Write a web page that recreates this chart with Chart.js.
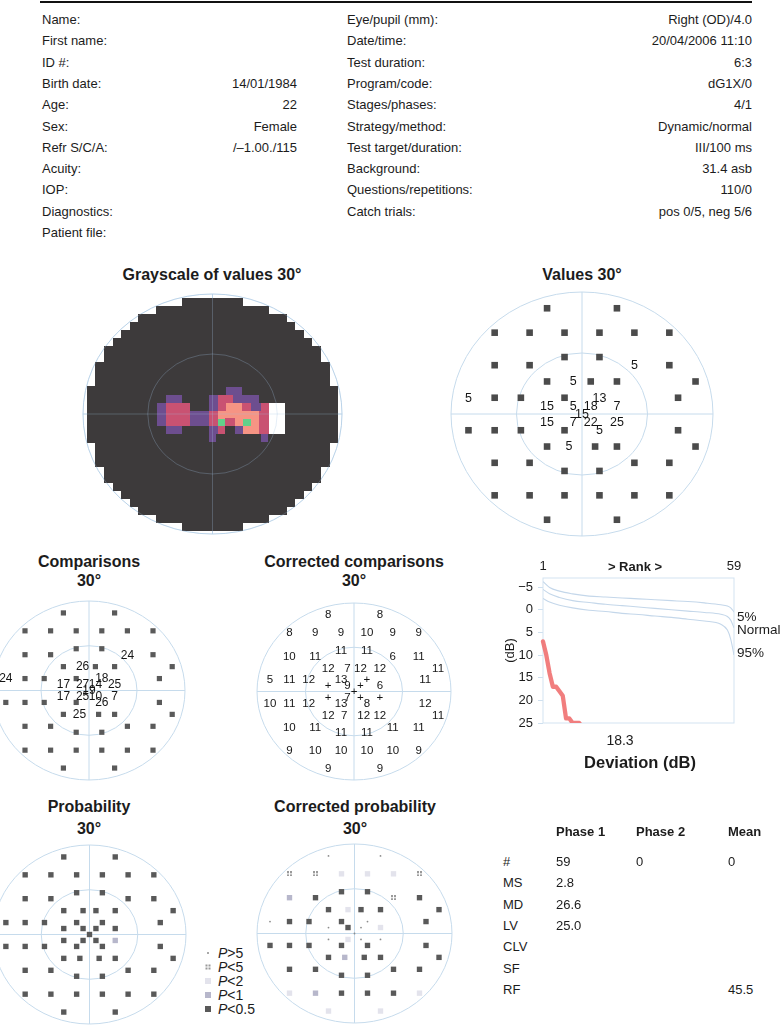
<!DOCTYPE html>
<html>
<head>
<meta charset="utf-8">
<script src="https://cdn.jsdelivr.net/npm/chart.js@4.4.1/dist/chart.umd.min.js"></script>
<style>
  body { margin: 0; background: #fff; }
  #page { position: relative; width: 781px; height: 1025px; overflow: hidden;
          font-family: "Liberation Sans", Arial, sans-serif; color: #1c1c1c; }
  .t { position: absolute; white-space: nowrap; font-size: 13px; line-height: 16px; transform: translateY(-50%); }
  .r { transform: translate(-100%, -50%); }
  .c { transform: translate(-50%, -50%); }
  .b { font-weight: bold; }
  canvas { position: absolute; }
  .sym { position: absolute; transform: translate(-50%, -50%); }
</style>
</head>
<body>
<div id="page"></div>
<script>
'use strict';

// ─── Header data ─────────────────────────────────────────────────────────────
const leftLabels  = ['Name:', 'First name:', 'ID #:', 'Birth date:', 'Age:', 'Sex:', 'Refr S/C/A:',
                     'Acuity:', 'IOP:', 'Diagnostics:', 'Patient file:'];
const leftValues  = ['', '', '', '14/01/1984', '22', 'Female', '/\u20131.00./115', '', '', '', ''];
const rightLabels = ['Eye/pupil (mm):', 'Date/time:', 'Test duration:', 'Program/code:', 'Stages/phases:',
                     'Strategy/method:', 'Test target/duration:', 'Background:', 'Questions/repetitions:', 'Catch trials:'];
const rightValues = ['Right (OD)/4.0', '20/04/2006 11:10', '6:3', 'dG1X/0', '4/1', 'Dynamic/normal',
                     'III/100 ms', '31.4 asb', '110/0', 'pos 0/5, neg 5/6'];

// ─── Test locations (degrees), G1 pattern, row by row top to bottom ─────────
const fieldX = [-8, 8,
  -20, -12, -4, 4, 12, 20,
  -4, 4,
  -20, -12, 12, 20,
  -8, -2, 2, 8, 26,
  -26, -20, -14, -4, 4, 22,
  -8, -2, 2, 8,
  0,
  -8, -2, 2, 8,
  -26, -20, -14, -4, 4, 22,
  -8, -3, 3, 8, 26,
  -20, -12, 12, 20,
  -4, 4,
  -20, -12, -4, 4, 12, 20,
  -8, 8];
const fieldY = [26, 26,
  20, 20, 20, 20, 20, 20,
  14, 14,
  12, 12, 12, 12,
  8, 8, 8, 8, 8,
  4, 4, 4, 4, 4, 4,
  2, 2, 2, 2,
  0,
  -2, -2, -2, -2,
  -4, -4, -4, -4, -4, -4,
  -8, -8, -8, -8, -8,
  -12, -12, -12, -12,
  -14, -14,
  -20, -20, -20, -20, -20, -20,
  -26, -26];

// Measured thresholds (dB); 0 is drawn as a black square
const valuesDb = [0, 0,
  0, 0, 0, 0, 0, 0,
  0, 0,
  0, 0, 5, 0,
  0, 5, 0, 0, 0,
  5, 0, 0, 0, 13, 0,
  15, 5, 18, 7,
  15,
  15, 7, 22, 25,
  0, 0, 0, 0, 5, 0,
  0, 5, 0, 0, 0,
  0, 0, 0, 0,
  0, 0,
  0, 0, 0, 0, 0, 0,
  0, 0];

// Comparisons (dB); null = absolute defect (square)
const comparisons = [null, null,
  null, null, null, null, null, null,
  null, null,
  null, null, 24, null,
  null, 26, null, null, null,
  24, null, null, null, 18, null,
  17, 27, 14, 25,
  19,
  17, 25, 10, 7,
  null, null, null, null, 26, null,
  null, 25, null, null, null,
  null, null, null, null,
  null, null,
  null, null, null, null, null, null,
  null, null];

// Corrected comparisons ('+' = within normal)
const correctedComparisons = ['8', '8',
  '8', '9', '9', '10', '9', '9',
  '11', '11',
  '10', '11', '6', '11',
  '12', '7', '12', '12', '11',
  '5', '11', '12', '13', '+', '11',
  '+', '9', '+', '6',
  '+',
  '+', '7', '+', '+',
  '10', '11', '12', '13', '8', '12',
  '12', '7', '12', '12', '11',
  '10', '11', '11', '11',
  '11', '11',
  '9', '10', '10', '10', '10', '9',
  '9', '9'];

// Probability classes: 0 P>5, 1 P<5, 2 P<2, 3 P<1, 4 P<0.5
const probability = [4, 4,
  4, 4, 4, 4, 4, 4,
  4, 4,
  4, 4, 4, 4,
  4, 4, 4, 4, 4,
  4, 4, 4, 4, 4, 4,
  4, 4, 4, 4,
  4,
  4, 4, 4, 3,
  4, 4, 4, 4, 4, 4,
  4, 4, 4, 4, 4,
  4, 4, 4, 4,
  4, 4,
  4, 4, 4, 4, 4, 4,
  4, 4];
const correctedProbability = [0, 0,
  1, 1, 2, 2, 2, 1,
  4, 4,
  3, 4, 1, 4,
  4, 2, 4, 4, 4,
  0, 4, 4, 4, 0, 4,
  0, 4, 0, 2,
  0,
  0, 2, 0, 0,
  4, 4, 4, 4, 4, 4,
  4, 3, 4, 4, 4,
  4, 4, 4, 4,
  4, 4,
  2, 3, 4, 4, 4, 2,
  2, 2];
const probLegend = ['>5', '<5', '<2', '<1', '<0.5'];

// Grayscale map, 2° cells, rows y = 28 … -28, columns x = -28 … 28
// k dark, p purple, r red, s salmon, g green, w white, . outside
const grayRows = [
  '...........kkkkkkk...........',
  '........kkkkkkkkkkkkk........',
  '......kkkkkkkkkkkkkkkkk......',
  '.....kkkkkkkkkkkkkkkkkkk.....',
  '....kkkkkkkkkkkkkkkkkkkkk....',
  '...kkkkkkkkkkkkkkkkkkkkkkk...',
  '..kkkkkkkkkkkkkkkkkkkkkkkkk..',
  '..kkkkkkkkkkkkkkkkkkkkkkkkk..',
  '.kkkkkkkkkkkkkkkkkkkkkkkkkkk.',
  '.kkkkkkkkkkkkkkkkkkkkkkkkkkk.',
  '.kkkkkkkkkkkkkkkkkkkkkkkkkkk.',
  'kkkkkkkkkkkkkkkkppkkkkkkkkkkk',
  'kkkkkkkkkppkkkprrpppkkkkkkkkk',
  'kkkkkkkkprrrkkprssrprwwkkkkkk',
  'kkkkkkkkprrrpprsssssrwwkkkkkk',
  'kkkkkkkkprrrpprgrsgsrwwkkkkkk',
  'kkkkkkkkkppkkkprkpssrwwkkkkkk',
  'kkkkkkkkkkkkkkpkkkkkpkkkkkkkk',
  '.kkkkkkkkkkkkkkkkkkkkkkkkkkk.',
  '.kkkkkkkkkkkkkkkkkkkkkkkkkkk.',
  '.kkkkkkkkkkkkkkkkkkkkkkkkkkk.',
  '..kkkkkkkkkkkkkkkkkkkkkkkkk..',
  '..kkkkkkkkkkkkkkkkkkkkkkkkk..',
  '...kkkkkkkkkkkkkkkkkkkkkkk...',
  '....kkkkkkkkkkkkkkkkkkkkk....',
  '.....kkkkkkkkkkkkkkkkkkk.....',
  '......kkkkkkkkkkkkkkkkk......',
  '........kkkkkkkkkkkkk........',
  '...........kkkkkkk...........'
];
const grayColors = { k: '#3d3a3b', p: '#6d4e8f', r: '#c95272', s: '#f69484', g: '#62d08a', w: '#ffffff' };

// ─── Bebie curve data ────────────────────────────────────────────────────────
const rankGrid      = [1, 3, 6, 10, 15, 20, 25, 30, 35, 40, 45, 50, 55, 57, 58, 59];
const curveUpper    = [-6.2, -4.9, -4.1, -3.5, -3.0, -2.8, -2.6, -2.4, -2.2, -2.0, -1.8, -1.5, -1.1, -0.8, -0.4, 0.5];
const curveNormal   = [-4.5, -3.5, -2.7, -2.0, -1.6, -1.2, -0.9, -0.6, -0.3, 0.0, 0.3, 0.6, 1.0, 1.5, 2.3, 4.0];
const curveLower    = [-2.5, -1.7, -1.0, -0.4, 0.1, 0.4, 0.8, 1.05, 1.4, 1.7, 2.1, 2.5, 3.2, 4.5, 6.5, 10.0];
const patientDefects = [7, 10, 14, 17, 17, 18, 19, 24, 24, 25, 25, 25, 26, 26, 27];
const yTicks = [-5, 0, 5, 10, 15, 20, 25];

// ─── Summary table ───────────────────────────────────────────────────────────
const tableHeads  = ['Phase 1', 'Phase 2', 'Mean'];
const tableRows   = ['#', 'MS', 'MD', 'LV', 'CLV', 'SF', 'RF'];
const phase1Vals  = ['59', '2.8', '26.6', '25.0', '', '', ''];
const phase2Vals  = ['0', '', '', '', '', '', ''];
const meanVals    = ['0', '', '', '', '', '', '45.5'];

// ─── Helpers ─────────────────────────────────────────────────────────────────
const FONT = '"Liberation Sans", Arial, sans-serif';
Chart.defaults.font.family = FONT;
Chart.defaults.color = '#1c1c1c';
const page = document.getElementById('page');

function txt(s, x, y, cls = '', size = 13, html = false) {
  const d = document.createElement('div');
  d.className = 't ' + cls;
  d.style.left = x + 'px';
  d.style.top = y + 'px';
  d.style.fontSize = size + 'px';
  if (html) d.innerHTML = s; else d.textContent = s;
  page.appendChild(d);
  return d;
}

function addCanvas(left, top, w, h) {
  const cv = document.createElement('canvas');
  cv.width = w; cv.height = h;
  cv.style.left = left + 'px';
  cv.style.top = top + 'px';
  page.appendChild(cv);
  return cv;
}

function pts(indexes) {
  return indexes.map(i => ({ x: fieldX[i], y: fieldY[i] }));
}
const allIdx = fieldX.map((_, i) => i);

// Draws the 15° / 30° rings and the crosshair
function drawFieldGrid(chart, color) {
  const { ctx, scales: { x, y } } = chart;
  const cx = x.getPixelForValue(0), cy = y.getPixelForValue(0);
  ctx.save();
  ctx.strokeStyle = color;
  ctx.lineWidth = 1;
  for (const r of [15, 30]) {
    ctx.beginPath();
    ctx.ellipse(cx, cy, x.getPixelForValue(r) - cx, cy - y.getPixelForValue(r), 0, 0, Math.PI * 2);
    ctx.stroke();
  }
  ctx.beginPath();
  ctx.moveTo(x.getPixelForValue(-30), cy); ctx.lineTo(x.getPixelForValue(30), cy);
  ctx.moveTo(cx, y.getPixelForValue(30)); ctx.lineTo(cx, y.getPixelForValue(-30));
  ctx.stroke();
  ctx.restore();
}

const fieldGrid = {
  id: 'fieldGrid',
  beforeDatasetsDraw(chart) { drawFieldGrid(chart, '#c6dbec'); },
  afterDatasetsDraw(chart, args, o) { if (o.front) drawFieldGrid(chart, o.front); },
};

// Writes dataset.texts at each point position
const fieldText = {
  id: 'fieldText',
  afterDatasetsDraw(chart) {
    const ctx = chart.ctx;
    chart.data.datasets.forEach((ds, i) => {
      if (!ds.texts) return;
      const meta = chart.getDatasetMeta(i);
      ctx.save();
      ctx.font = ds.textFont;
      ctx.fillStyle = '#151515';
      ctx.textAlign = 'center';
      ctx.textBaseline = 'middle';
      meta.data.forEach((el, j) => ctx.fillText(ds.texts[j], el.x, el.y + 0.5));
      ctx.restore();
    });
  },
};

function fieldChart(cx, cy, rx, ry, datasets, gridOpts = {}) {
  const pad = 12;
  const cv = addCanvas(Math.round(cx - rx - pad), Math.round(cy - ry - pad),
                       Math.round(2 * rx + 2 * pad), Math.round(2 * ry + 2 * pad));
  return new Chart(cv.getContext('2d'), {
    type: 'scatter',
    data: { datasets },
    options: {
      responsive: false,
      animation: false,
      events: [],
      layout: { padding: pad },
      scales: {
        x: { display: false, min: -30, max: 30 },
        y: { display: false, min: -30, max: 30 },
      },
      plugins: { legend: { display: false }, tooltip: { enabled: false }, fieldGrid: gridOpts },
    },
    plugins: [fieldGrid, fieldText],
  });
}

function squares(indexes, color, side) {
  return {
    data: pts(indexes),
    pointStyle: 'rect',
    pointRadius: side / Math.SQRT2,
    pointBackgroundColor: color,
    pointBorderWidth: 0,
  };
}

function labels(indexes, texts, size) {
  return {
    data: pts(indexes),
    pointRadius: 0,
    texts,
    textFont: size + 'px ' + FONT,
  };
}

function fourDots(color) {
  const c = document.createElement('canvas');
  c.width = 5; c.height = 5;
  const g = c.getContext('2d');
  g.fillStyle = color;
  [[0, 0], [3, 0], [0, 3], [3, 3]].forEach(([a, b]) => g.fillRect(a, b, 2, 2));
  return c;
}

// Solid cell image used as point style for the grayscale map
function cell(color, w, h) {
  const c = document.createElement('canvas');
  c.width = w; c.height = h;
  const g = c.getContext('2d');
  g.fillStyle = color;
  g.fillRect(0, 0, w, h);
  return c;
}

const probStyles = [
  { style: 'circle', r: 0.9, color: '#8c8c8c' },
  { style: fourDots('#9a9a9a'), r: 3, color: '#9a9a9a' },
  { style: 'rect', r: 3.8, color: '#e3e3ec' },
  { style: 'rect', r: 3.8, color: '#b7b7cb' },
  { style: 'rect', r: 3.8, color: '#595959' },
];

function probDatasets(classes) {
  return probStyles.map((s, k) => ({
    data: pts(allIdx.filter(i => classes[i] === k)),
    pointStyle: s.style,
    pointRadius: s.r,
    pointBackgroundColor: s.color,
    pointBorderWidth: 0,
  }));
}

// ─── Header ──────────────────────────────────────────────────────────────────
const line = document.createElement('div');
line.style.cssText = 'position:absolute;left:40px;top:1px;width:712px;height:2px;background:#111;';
page.appendChild(line);
leftLabels.forEach((s, i) => {
  const y = 20 + i * 21.3;
  txt(s, 42, y);
  if (leftValues[i]) txt(leftValues[i], 297, y, 'r');
});
rightLabels.forEach((s, i) => {
  const y = 20 + i * 21.3;
  txt(s, 347, y);
  txt(rightValues[i], 752, y, 'r');
});

// ─── Grayscale ───────────────────────────────────────────────────────────────
txt('Grayscale of values 30\u00b0', 212, 275, 'c b', 16);
const grayDatasets = Object.keys(grayColors).map(code => {
  const data = [];
  grayRows.forEach((row, r) => {
    [...row].forEach((ch, c) => { if (ch === code) data.push({ x: -28 + 2 * c, y: 28 - 2 * r }); });
  });
  return { data, pointStyle: cell(grayColors[code], 10, 9), pointRadius: 5, pointBorderWidth: 0 };
});
fieldChart(212.7, 414, 129.5, 120, grayDatasets, { front: 'rgba(160,195,225,0.28)' });

// ─── Values ──────────────────────────────────────────────────────────────────
txt('Values 30\u00b0', 582, 275, 'c b', 16);
const valZero = allIdx.filter(i => valuesDb[i] === 0);
const valNum  = allIdx.filter(i => valuesDb[i] !== 0);
fieldChart(582, 414, 131, 122, [
  squares(valZero, '#4b4b4b', 6.6),
  labels(valNum, valNum.map(i => String(valuesDb[i])), 12.5),
]);

// ─── Comparisons ─────────────────────────────────────────────────────────────
txt('Comparisons', 89, 562, 'c b', 16);
txt('30\u00b0', 89, 581, 'c b', 16);
const cmpSq  = allIdx.filter(i => comparisons[i] === null);
const cmpNum = allIdx.filter(i => comparisons[i] !== null);
fieldChart(89, 690.7, 96, 89.7, [
  squares(cmpSq, '#5a5a5a', 5.2),
  labels(cmpNum, cmpNum.map(i => String(comparisons[i])), 12),
]);

// ─── Corrected comparisons ───────────────────────────────────────────────────
txt('Corrected comparisons', 354, 562, 'c b', 16);
txt('30\u00b0', 354, 581, 'c b', 16);
fieldChart(354.3, 691, 97, 88.3, [labels(allIdx, correctedComparisons, 11.5)]);

// ─── Probability ─────────────────────────────────────────────────────────────
txt('Probability', 89, 807, 'c b', 16);
txt('30\u00b0', 89, 829, 'c b', 16);
fieldChart(89.3, 934.3, 96.3, 89.3, probDatasets(probability));

probLegend.forEach((s, k) => {
  const y = 953 + k * 14;
  txt('<i>P</i>' + s.replace('<', '&lt;').replace('>', '&gt;'), 218, y, '', 14, true);
  const st = probStyles[k];
  if (k === 1) {
    const c = fourDots(st.color);
    c.className = 'sym';
    c.style.left = '208px'; c.style.top = y + 'px';
    page.appendChild(c);
  } else {
    const d = document.createElement('div');
    d.className = 'sym';
    const side = k === 0 ? 2 : 6;
    d.style.cssText += `left:208px;top:${y}px;width:${side}px;height:${side}px;background:${st.color};` +
                       (k === 0 ? 'border-radius:1px;' : '');
    page.appendChild(d);
  }
});

// ─── Corrected probability ───────────────────────────────────────────────────
txt('Corrected probability', 355, 807, 'c b', 16);
txt('30\u00b0', 355, 829, 'c b', 16);
fieldChart(355, 934, 97.7, 89.7, probDatasets(correctedProbability));

// ─── Bebie curve ─────────────────────────────────────────────────────────────
const plotBox = {
  id: 'plotBox',
  beforeDatasetsDraw(chart) {
    const { ctx, chartArea: a } = chart;
    ctx.save();
    ctx.strokeStyle = '#d3e3f1';
    ctx.lineWidth = 1;
    ctx.strokeRect(a.left, a.top, a.right - a.left, a.bottom - a.top);
    ctx.restore();
  },
};

const curveDs = (vals) => ({
  data: rankGrid.map((r, i) => ({ x: r, y: vals[i] })),
  borderColor: '#c4d7ea',
  borderWidth: 1.1,
  pointRadius: 0,
  cubicInterpolationMode: 'monotone',
});

const bebieCanvas = addCanvas(490, 548, 291, 230);
new Chart(bebieCanvas.getContext('2d'), {
  type: 'line',
  data: {
    datasets: [
      curveDs(curveUpper),
      curveDs(curveNormal),
      curveDs(curveLower),
      {
        data: patientDefects.map((v, i) => ({ x: i + 1, y: v })),
        borderColor: 'rgba(239,112,112,0.9)',
        borderWidth: 4.3,
        pointRadius: 0,
        borderJoinStyle: 'round',
        borderCapStyle: 'round',
        clip: { left: 5, top: 5, right: 5, bottom: 0 },
      },
    ],
  },
  options: {
    responsive: false,
    animation: false,
    events: [],
    layout: { padding: { left: 13, right: 47, top: 0, bottom: 55 } },
    plugins: { legend: { display: false }, tooltip: { enabled: false } },
    scales: {
      x: {
        type: 'linear',
        position: 'top',
        min: 1,
        max: 59,
        afterBuildTicks: s => { s.ticks = [{ value: 1 }, { value: 59 }]; },
        afterFit: s => { s.height = 30; },
        grid: { drawOnChartArea: false, drawTicks: false },
        border: { display: false },
        ticks: { font: { size: 13 }, padding: 4, maxRotation: 0, color: '#1c1c1c' },
      },
      y: {
        reverse: true,
        min: -7,
        max: 25,
        afterBuildTicks: s => { s.ticks = yTicks.map(v => ({ value: v })); },
        afterFit: s => { s.width = 40; },
        grid: { drawOnChartArea: false, drawTicks: true, tickLength: 5, color: '#cfe0ef' },
        border: { display: false },
        ticks: {
          font: { size: 13 },
          padding: 5,
          color: '#1c1c1c',
          callback: v => String(v).replace('-', '\u2212'),
        },
        title: { display: true, text: '(dB)', font: { size: 13 }, padding: 0, color: '#1c1c1c' },
      },
    },
  },
  plugins: [plotBox],
});

txt('&gt; Rank &gt;', 635, 567, 'c b', 13, true);
txt('5%', 737, 617, '', 13.5);
txt('Normal', 737, 630, '', 13.5);
txt('95%', 737, 653, '', 13.5);
txt('18.3', 620, 740, 'c', 14);
txt('Deviation (dB)', 640, 762, 'c b', 16.5);

// ─── Summary table ───────────────────────────────────────────────────────────
const colX = [556, 636, 728];
tableHeads.forEach((h, i) => txt(h, colX[i], 832, 'b', 13));
tableRows.forEach((r, j) => {
  const y = 862 + j * 21.3;
  txt(r, 503, y, '', 13);
  [phase1Vals, phase2Vals, meanVals].forEach((col, i) => { if (col[j]) txt(col[j], colX[i], y, '', 13); });
});
</script>
</body>
</html>
